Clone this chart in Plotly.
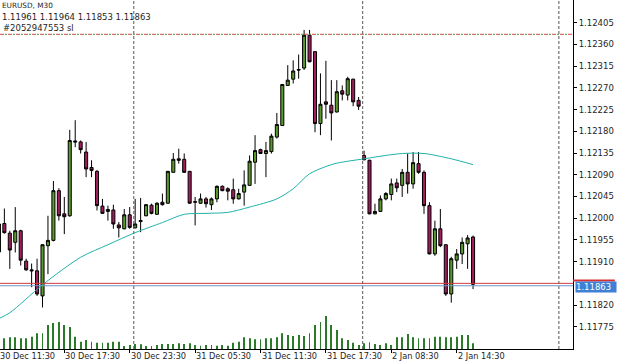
import plotly.graph_objects as go

# ---------------- data ----------------
bars = list(range(88))  # M30 bar index, 0 = 30 Dec 11:30
tick_bars = [0, 12, 24, 36, 48, 60, 72, 84]
tick_text = ["30 Dec 11:30", "30 Dec 17:30", "30 Dec 23:30", "31 Dec 05:30",
             "31 Dec 11:30", "31 Dec 17:30", "2 Jan 08:30", "2 Jan 14:30"]
day_start_bars = [25, 67, 103]

opens = [1.11930, 1.11989, 1.11969, 1.11950, 1.11974, 1.11911, 1.11893, 1.11891, 1.11839, 1.11943,
         1.11954, 1.12057, 1.12009, 1.12005, 1.12160, 1.12158, 1.12137, 1.12105, 1.12097, 1.12025,
         1.12014, 1.12017, 1.11986, 1.11978, 1.12007, 1.11980, 1.11993, 1.12005, 1.12027, 1.12008,
         1.12033, 1.12031, 1.12095, 1.12123, 1.12122, 1.12097, 1.12033, 1.12031, 1.12040, 1.12028,
         1.12040, 1.12066, 1.12061, 1.12059, 1.12040, 1.12054, 1.12068, 1.12116, 1.12142, 1.12134,
         1.12138, 1.12168, 1.12192, 1.12275, 1.12288, 1.12308, 1.12311, 1.12379, 1.12345, 1.12196,
         1.12241, 1.12234, 1.12220, 1.12264, 1.12255, 1.12288, 1.12244, 1.12130, 1.12120, 1.12009,
         1.12014, 1.12040, 1.12049, 1.12073, 1.12068, 1.12095, 1.12071, 1.12113, 1.12095, 1.12026,
         1.11926, 1.11978, 1.11945, 1.11843, 1.11913, 1.11926, 1.11947, 1.11961]
highs = [1.12018, 1.12020, 1.11974, 1.12023, 1.11976, 1.11916, 1.11906, 1.11916, 1.11946, 1.12005,
         1.12077, 1.12062, 1.12044, 1.12183, 1.12203, 1.12161, 1.12158, 1.12120, 1.12100, 1.12040,
         1.12026, 1.12028, 1.11992, 1.12019, 1.12023, 1.12040, 1.12042, 1.12029, 1.12030, 1.12033,
         1.12051, 1.12098, 1.12135, 1.12144, 1.12134, 1.12098, 1.12044, 1.12051, 1.12044, 1.12043,
         1.12068, 1.12068, 1.12064, 1.12082, 1.12061, 1.12099, 1.12130, 1.12172, 1.12144, 1.12158,
         1.12175, 1.12218, 1.12278, 1.12317, 1.12327, 1.12339, 1.12390, 1.12390, 1.12346, 1.12300,
         1.12326, 1.12286, 1.12286, 1.12275, 1.12293, 1.12289, 1.12251, 1.12140, 1.12121, 1.12030,
         1.12047, 1.12054, 1.12082, 1.12082, 1.12102, 1.12134, 1.12137, 1.12137, 1.12099, 1.12033,
         1.11995, 1.12019, 1.11946, 1.11920, 1.11936, 1.11960, 1.11965, 1.11964]
lows = [1.11913, 1.11968, 1.11895, 1.11929, 1.11902, 1.11891, 1.11857, 1.11839, 1.11815, 1.11884,
        1.11952, 1.11995, 1.11967, 1.12003, 1.12147, 1.12134, 1.12085, 1.12085, 1.12016, 1.12009,
        1.11995, 1.11978, 1.11960, 1.11977, 1.11978, 1.11979, 1.11971, 1.12004, 1.12008, 1.12007,
        1.12026, 1.12030, 1.12094, 1.12113, 1.12094, 1.12030, 1.11985, 1.12030, 1.12022, 1.12017,
        1.12033, 1.12056, 1.12037, 1.12030, 1.12039, 1.12026, 1.12067, 1.12071, 1.12133, 1.12085,
        1.12134, 1.12165, 1.12191, 1.12274, 1.12279, 1.12289, 1.12307, 1.12323, 1.12178, 1.12172,
        1.12206, 1.12161, 1.12219, 1.12244, 1.12244, 1.12232, 1.12224, 1.12120, 1.12008, 1.12008,
        1.12013, 1.12037, 1.12037, 1.12054, 1.12044, 1.12051, 1.12061, 1.12092, 1.12009, 1.11925,
        1.11922, 1.11940, 1.11839, 1.11825, 1.11895, 1.11905, 1.11895, 1.11853]
closes = [1.11988, 1.11970, 1.11934, 1.11974, 1.11913, 1.11893, 1.11891, 1.11843, 1.11945, 1.11954,
          1.12057, 1.12005, 1.12003, 1.12161, 1.12158, 1.12142, 1.12102, 1.12099, 1.12026, 1.12010,
          1.12018, 1.11988, 1.11980, 1.12007, 1.11981, 1.11988, 1.11995, 1.12028, 1.12010, 1.12031,
          1.12028, 1.12097, 1.12122, 1.12120, 1.12095, 1.12031, 1.12034, 1.12040, 1.12030, 1.12040,
          1.12066, 1.12057, 1.12056, 1.12040, 1.12051, 1.12069, 1.12118, 1.12140, 1.12134, 1.12140,
          1.12170, 1.12194, 1.12277, 1.12286, 1.12305, 1.12307, 1.12379, 1.12324, 1.12196, 1.12236,
          1.12236, 1.12218, 1.12262, 1.12257, 1.12289, 1.12241, 1.12232, 1.12121, 1.12009, 1.12014,
          1.12040, 1.12051, 1.12071, 1.12063, 1.12095, 1.12071, 1.12115, 1.12095, 1.12026, 1.11926,
          1.11978, 1.11943, 1.11843, 1.11916, 1.11926, 1.11950, 1.11959, 1.11863]
volumes = [400, 428, 468, 468, 428, 428, 492, 628, 628, 960,
           1040, 1080, 960, 880, 492, 292, 360, 292, 252, 252,
           252, 292, 292, 120, 160, 200, 188, 120, 120, 160,
           200, 200, 200, 228, 200, 228, 160, 132, 160, 160,
           132, 160, 132, 252, 292, 468, 428, 388, 388, 428,
           428, 468, 628, 560, 520, 560, 520, 628, 960, 1080,
           1320, 960, 760, 428, 360, 252, 160, 228, 268, 200,
           160, 228, 160, 468, 468, 600, 468, 428, 428, 428,
           492, 492, 468, 468, 492, 560, 560, 228]

ma_bars = [0, 2, 8, 15, 20, 25, 30, 34, 38, 42, 46, 51, 54, 57, 60, 62, 67, 71, 74, 78, 83, 87]
ma_vals = [1.11792, 1.11804, 1.11862, 1.11919, 1.11945, 1.11970, 1.11991, 1.12008, 1.12010, 1.12012,
           1.12023, 1.12040, 1.12061, 1.12092, 1.12107, 1.12114, 1.12123, 1.12130, 1.12134, 1.12134,
           1.12123, 1.12111]

y_ticks = [1.12405, 1.12360, 1.12315, 1.12270, 1.12225, 1.12180, 1.12135, 1.12090,
           1.12045, 1.12000, 1.11955, 1.11910, 1.11820, 1.11775]
symbol_text = "EURUSD, M30"
ohlc_text = "1.11961 1.11964 1.11853 1.11863"
order_text = "#2052947553 sl"
sl_price = 1.12381
bid_price = 1.11860
ask_price = 1.11865
bid_label = "1.11863"

# ---------------- figure ----------------
X_RANGE = [0.2, 105.34]
Y_RANGE = [1.11729, 1.12452]
FONT = "DejaVu Sans"
TXT = "#1e1e1e"

fig = go.Figure()

fig.add_trace(go.Bar(
    x=bars, y=volumes, yaxis="y2", width=0.16,
    marker=dict(color="#2a7a2a", line=dict(width=0)),
    hoverinfo="skip", showlegend=False,
))

fig.add_trace(go.Candlestick(
    x=bars, open=opens, high=highs, low=lows, close=closes,
    increasing=dict(line=dict(color="#000000", width=1), fillcolor="#5b9a2c"),
    decreasing=dict(line=dict(color="#000000", width=1), fillcolor="#a01e5c"),
    whiskerwidth=0, showlegend=False, hoverinfo="skip",
))

fig.add_trace(go.Scatter(
    x=ma_bars, y=ma_vals, mode="lines",
    line=dict(color="#20b2aa", width=1, shape="spline", smoothing=0.8),
    hoverinfo="skip", showlegend=False,
))

shapes = []
for d in day_start_bars:
    shapes.append(dict(type="line", xref="x", yref="paper", x0=d - 0.25, x1=d - 0.25,
                       y0=0, y1=1, line=dict(color="#555555", width=1, dash="3px,2px")))
# stop-loss line (red / green dash-dot)
shapes.append(dict(type="line", xref="paper", yref="y", x0=0, x1=1, y0=sl_price, y1=sl_price,
                   line=dict(color="#d04848", width=1, dash="4px,4px")))
shapes.append(dict(type="line", xref="paper", yref="y", x0=0, x1=1, y0=sl_price, y1=sl_price,
                   line=dict(color="#3c9a3c", width=1, dash="0px,5px,2px,1px")))
# bid / ask lines
shapes.append(dict(type="line", xref="paper", yref="y", x0=0, x1=1, y0=ask_price, y1=ask_price,
                   line=dict(color="#d03c3c", width=1)))
shapes.append(dict(type="line", xref="paper", yref="y", x0=0, x1=1, y0=bid_price, y1=bid_price,
                   line=dict(color="#6c98cf", width=1)))
shapes.append(dict(type="line", xref="paper", yref="y", x0=1.0, x1=1.073,
                   y0=ask_price + 0.00006, y1=ask_price + 0.00006,
                   line=dict(color="#d83030", width=2)))

annotations = []
span = X_RANGE[1] - X_RANGE[0]
for tb, tt in zip(tick_bars, tick_text):
    annotations.append(dict(text=tt, xref="paper", yref="paper",
                            x=(tb - X_RANGE[0]) / span, y=-0.021,
                            xanchor="left", yanchor="middle", showarrow=False,
                            font=dict(family=FONT, size=8.2, color=TXT), borderpad=0))
annotations.append(dict(text=symbol_text, xref="paper", yref="paper", x=0.001, y=1.0,
                        xanchor="left", yanchor="top", showarrow=False,
                        font=dict(family=FONT, size=7.3, color=TXT), borderpad=0))
annotations.append(dict(text=ohlc_text, xref="paper", yref="paper", x=0.001, y=1 - 11 / 349,
                        xanchor="left", yanchor="top", showarrow=False,
                        font=dict(family=FONT, size=8.5, color=TXT), borderpad=0))
annotations.append(dict(text=order_text, xref="paper", yref="paper", x=0.003, y=1 - 22 / 349,
                        xanchor="left", yanchor="top", showarrow=False,
                        font=dict(family=FONT, size=8.5, color=TXT), borderpad=0))
annotations.append(dict(text=bid_label, xref="paper", yref="y", x=1.0035, y=bid_price - 0.00003,
                        xanchor="left", yanchor="middle", showarrow=False,
                        font=dict(family=FONT, size=8.5, color="#ffffff"),
                        bgcolor="#3f7fd6", borderpad=0, width=40, height=10, align="left"))

fig.update_layout(
    width=625, height=363,
    margin=dict(l=0, r=52, t=0, b=14, pad=0),
    paper_bgcolor="#ffffff", plot_bgcolor="#ffffff",
    showlegend=False, boxgap=0.3, boxgroupgap=0.2,
    xaxis=dict(range=X_RANGE, showgrid=False, zeroline=False, showline=True,
               linecolor="#000000", linewidth=1, ticks="outside", ticklen=3,
               tickcolor="#000000", tickvals=tick_bars, ticktext=[""] * len(tick_bars),
               rangeslider=dict(visible=False), fixedrange=True),
    yaxis=dict(range=Y_RANGE, side="right", showgrid=False, zeroline=False, showline=True,
               linecolor="#000000", linewidth=1, ticks="outside", ticklen=3,
               tickcolor="#000000", tickvals=y_ticks,
               ticktext=[f"{v:.5f}" for v in y_ticks],
               tickfont=dict(family=FONT, size=8.5, color=TXT), fixedrange=True),
    yaxis2=dict(range=[0, 13960], overlaying="y", visible=False, fixedrange=True),
    shapes=shapes, annotations=annotations,
)

fig.write_html("out.html")
